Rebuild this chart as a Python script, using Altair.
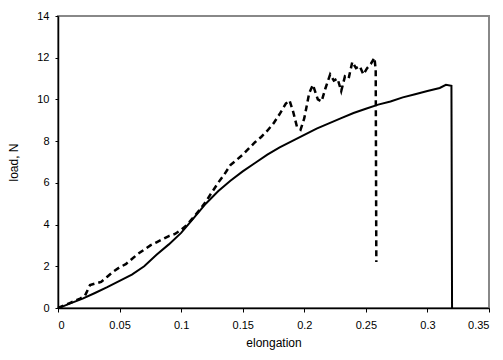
import altair as alt
import pandas as pd

# solid curve (sample 1)
solid_x = [0.0, 0.005, 0.01, 0.02, 0.03, 0.04, 0.05, 0.06, 0.07, 0.08, 0.09, 0.10,
           0.11, 0.12, 0.13, 0.14, 0.15, 0.16, 0.17, 0.18, 0.19, 0.20, 0.21, 0.22,
           0.23, 0.24, 0.25, 0.26, 0.27, 0.28, 0.29, 0.30, 0.31, 0.315, 0.3195, 0.32]
solid_y = [0.0, 0.1, 0.22, 0.45, 0.72, 1.0, 1.3, 1.6, 2.0, 2.55, 3.05, 3.6,
           4.3, 5.0, 5.6, 6.1, 6.55, 6.95, 7.35, 7.7, 8.0, 8.3, 8.6, 8.85,
           9.1, 9.35, 9.55, 9.75, 9.9, 10.1, 10.25, 10.4, 10.55, 10.7, 10.65, 0.0]

# dashed curve (sample 2)
dash_x = [0.0, 0.01, 0.018, 0.022, 0.026, 0.035, 0.04, 0.045, 0.05, 0.055, 0.06, 0.065,
          0.07, 0.075, 0.08, 0.085, 0.09, 0.095, 0.10, 0.105, 0.11, 0.115, 0.12, 0.125,
          0.13, 0.135, 0.14, 0.145, 0.15, 0.155, 0.16, 0.165, 0.17, 0.175, 0.18, 0.185,
          0.188, 0.191, 0.194, 0.197, 0.20, 0.204, 0.207, 0.211, 0.214, 0.217, 0.221,
          0.224, 0.227, 0.23, 0.233, 0.236, 0.239, 0.242, 0.245, 0.248, 0.251, 0.254,
          0.257, 0.258, 0.2585]
dash_y = [0.0, 0.25, 0.45, 0.6, 1.1, 1.25, 1.5, 1.75, 1.95, 2.1, 2.35, 2.6,
          2.8, 3.0, 3.15, 3.3, 3.45, 3.55, 3.75, 4.0, 4.35, 4.7, 5.1, 5.55,
          6.0, 6.4, 6.85, 7.1, 7.35, 7.65, 7.95, 8.2, 8.5, 8.85, 9.3, 9.8,
          9.95, 9.4, 8.7, 8.55, 9.1, 10.3, 10.7, 10.0, 9.9, 10.5, 11.2,
          10.9, 11.0, 10.4, 11.1, 11.0, 11.8, 11.5, 11.6, 11.2, 11.5, 11.7,
          12.0, 11.4, 2.2]

x_ticks = [0, 0.05, 0.1, 0.15, 0.2, 0.25, 0.3, 0.35]
y_ticks = [0, 2, 4, 6, 8, 10, 12, 14]

df_solid = pd.DataFrame({"elongation": solid_x, "load": solid_y, "i": range(len(solid_x))})
df_dash = pd.DataFrame({"elongation": dash_x, "load": dash_y, "i": range(len(dash_x))})

FONT = "Liberation Sans"

xenc = alt.X("elongation:Q", title="elongation",
             scale=alt.Scale(domain=[0, 0.35], nice=False, zero=False),
             axis=alt.Axis(values=x_ticks, format="~g", grid=False, domainColor="black",
                           tickColor="black", tickSize=4, labelPadding=7, titlePadding=7,
                           labelFontSize=11, titleFontSize=12, labelColor="black",
                           titleColor="black", titleFontWeight="normal", labelFont=FONT,
                           titleFont=FONT, domainWidth=1.5))
yenc = alt.Y("load:Q", title="load, N",
             scale=alt.Scale(domain=[0, 14], nice=False),
             axis=alt.Axis(values=y_ticks, grid=False, domainColor="black",
                           tickColor="black", tickSize=3, labelPadding=6, titlePadding=16,
                           labelFontSize=11, titleFontSize=12, labelColor="black",
                           titleColor="black", titleFontWeight="normal", labelFont=FONT,
                           titleFont=FONT, domainWidth=1.5))

solid = alt.Chart(df_solid).mark_line(color="black", strokeWidth=2).encode(
    x=xenc, y=yenc, order="i:Q")
dashed = alt.Chart(df_dash).mark_line(color="black", strokeWidth=2.5, strokeDash=[6, 4]).encode(
    x=xenc, y=yenc, order="i:Q")

chart = (dashed + solid).properties(
    width=431, height=292,
    autosize=alt.AutoSizeParams(type="none"),
    padding={"left": 50, "top": 8, "right": 6, "bottom": 43},
).configure_view(stroke="#888888", strokeWidth=2)

chart.save("out.html", embed_options={"renderer": "svg", "actions": False})
